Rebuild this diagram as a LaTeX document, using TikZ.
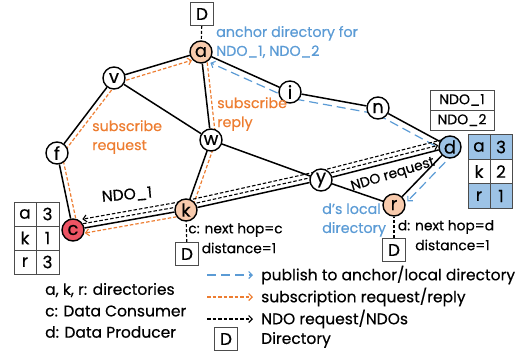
\documentclass[tikz,border=0pt]{standalone}
\usepackage{fontspec}
\setmainfont{Poppins}[FakeBold=0.4]
\usetikzlibrary{arrows.meta,calc,backgrounds}

\definecolor{pubblue}{HTML}{5B9BD5}
\definecolor{suborange}{HTML}{ED7D31}
\definecolor{dirfill}{HTML}{F8CBAD}
\definecolor{prodfill}{HTML}{9DC3E6}
\definecolor{consfill}{HTML}{EC5464}
\definecolor{cellblue}{HTML}{9DC3E6}

\begin{document}
\begin{tikzpicture}[x=1pt,y=-1pt,
  router/.style={circle,draw=black,line width=1.4pt,fill=white,minimum size=22pt,
    inner sep=0pt,font=\fontsize{18}{18}\selectfont},
  link/.style={line width=1.5pt},
  barb/.style={-{Straight Barb[length=3.5pt,width=7pt,line width=1.1pt]}},
  pub/.style={draw=pubblue,line width=1.2pt,dash pattern=on 9pt off 5pt,barb},
  sub/.style={draw=suborange,line width=1.2pt,dash pattern=on 3.5pt off 2pt,barb},
  ndo/.style={draw=black,line width=1.1pt,dash pattern=on 3.5pt off 2pt,barb},
  dirbox/.style={draw=black!70,line width=0.8pt,fill=white,minimum width=23pt,
    minimum height=23pt,inner sep=0pt,font=\fontsize{17}{17}\selectfont},
  dirlink/.style={line width=1.2pt,dash pattern=on 3pt off 2pt},
  lbl/.style={inner sep=0pt,font=\fontsize{14.3}{19}\selectfont},
  legend/.style={inner sep=0pt,font=\fontsize{15.5}{19}\selectfont},
  hoptext/.style={inner sep=0pt,font=\fontsize{13.8}{16}\selectfont},
  cell/.style={draw=black!70,line width=0.8pt,minimum width=22pt,minimum height=24pt,
    inner sep=0pt,font=\fontsize{17}{17}\selectfont},
  ndocell/.style={draw=black!70,line width=0.8pt,minimum width=64pt,minimum height=20pt,
    inner sep=0pt,font=\fontsize{14}{14}\selectfont}
]
\useasboundingbox (0,0) rectangle (526,354);

% routers
\node[router,fill=dirfill] (a) at (201,52) {a};
\node[router] (v) at (114,78) {v};
\node[router] (f) at (57,153) {f};
\node[router] (w) at (211,140) {w};
\node[router] (i) at (290,92) {i};
\node[router] (n) at (378,108) {n};
\node[router,fill=prodfill] (d) at (450,147) {d};
\node[router] (y) at (321,180) {y};
\node[router,fill=dirfill] (k) at (186,210) {k};
\node[router,fill=consfill] (c) at (73,230) {c};
\node[router,fill=dirfill] (r) at (394,205) {r};

% directory boxes
\node[dirbox] (Da) at (202,14) {D};
\node[dirbox] (Dk) at (187,254) {D};
\node[dirbox] (Dr) at (394,250) {D};

\begin{pgfonlayer}{background}
  % physical links
  \foreach \p/\q in {a/v,a/w,a/i,i/n,n/d,v/f,v/w,f/c,w/k,w/y,k/c,k/y,y/d,y/r,r/d}
    \draw[link] (\p) -- (\q);
  % directory attachments
  \draw[dirlink] (Da) -- (a);
  \draw[dirlink] (Dk) -- (k);
  \draw[dirlink] (Dr) -- (r);
  % publish to anchor and local directory
  \draw[pub,shorten >=13pt] ($(d)+(-2.7,5.4)$) -- ($(n)+(-2,5.8)$) -- ($(i)+(-1.8,5.8)$) -- ($(a)+(-2.5,5.5)$);
  \draw[pub,shorten >=12pt] ($(d)+(5,5)$) -- ($(r)+(5,5)$);
  % subscription request and reply
  \draw[sub,shorten >=11pt] ($(c)+(5,-1)$) -- ($(f)+(5,1.5)$) -- ($(v)+(3,5)$) -- ($(a)+(1.5,5)$);
  \draw[sub,shorten >=11pt] ($(a)+(5,-0.5)$) -- ($(w)+(5,0.5)$) -- ($(k)+(4,4.4)$) -- ($(c)+(1,5)$);
  % NDO request and returned NDO
  \draw[ndo,shorten >=11pt] ($(c)+(-0.8,-4.4)$) -- ($(k)+(-0.9,-4.4)$) -- ($(y)+(-1.1,-4.4)$) -- ($(d)+(-1.1,-4.4)$);
  \draw[ndo,shorten >=11pt] ($(d)+(-2.2,-8.7)$) -- ($(y)+(-2.1,-8.8)$) -- ($(k)+(-1.8,-8.9)$) -- ($(c)+(-1.5,-8.9)$);
\end{pgfonlayer}

% annotations
\node[lbl,anchor=west,align=left,text=pubblue] (anc) at (216,42) {anchor directory for\\NDO\_1, NDO\_2};
\node[lbl,anchor=west,align=left,text=suborange] (sreq) at (92,137) {subscribe\\request};
\node[lbl,anchor=west,align=left,text=suborange] (srep) at (217,114) {subscribe\\reply};
\node[legend,rotate=5] (ndo1) at (127,195) {NDO\_1};
\node[hoptext,rotate=17] (ndoreq) at (393,175) {NDO request};
\node[hoptext] (khop1) at (235.5,230) {c: next hop=c};
\node[hoptext] (khop2) at (239,248) {distance=1};
\node[lbl,anchor=west,align=left,text=pubblue] (dloc) at (322,220) {d’s local\\directory};
\node[hoptext] (rhop1) at (446,227) {d: next hop=d};
\node[hoptext] (rhop2) at (452.5,245) {distance=1};

% content table at d
\node[ndocell] (t1) at (462,100) {NDO\_1};
\node[ndocell] (t2) at (462,120) {NDO\_2};

% distance table at d
\node[cell,fill=cellblue,minimum height=24.5pt] (da1) at (479,147) {a};
\node[cell,fill=cellblue,minimum height=24.5pt] (da2) at (501,147) {3};
\node[cell,minimum height=24.5pt] (dk1) at (479,171.5) {k};
\node[cell,minimum height=24.5pt] (dk2) at (501,171.5) {2};
\node[cell,fill=cellblue,minimum height=24.5pt] (dr1) at (479,196) {r};
\node[cell,fill=cellblue,minimum height=24.5pt] (dr2) at (501,196) {1};

% distance table at c
\node[cell] (ca1) at (25,214) {a};
\node[cell,minimum width=23pt] (ca2) at (47.5,214) {3};
\node[cell] (ck1) at (25,238) {k};
\node[cell,minimum width=23pt] (ck2) at (47.5,238) {1};
\node[cell] (cr1) at (25,262) {r};
\node[cell,minimum width=23pt] (cr2) at (47.5,262) {3};

% legend, left
\node[legend,anchor=west] (lg1) at (45,290) {a, k, r: directories};
\node[legend,anchor=west] (lg2) at (45,311) {c: Data Consumer};
\node[legend,anchor=west] (lg3) at (45,332) {d: Data Producer};

% legend, right
\coordinate (p1) at (207,275); \coordinate (p2) at (253,275);
\coordinate (s1) at (207,297); \coordinate (s2) at (253,297);
\coordinate (n1) at (207,319); \coordinate (n2) at (253,319);
\draw[pub] (p1) -- (p2);
\draw[sub] (s1) -- (s2);
\draw[ndo] (n1) -- (n2);
\node[dirbox] (Dl) at (226,339) {D};
\node[legend,anchor=west] (lr1) at (261,275) {publish to anchor/local directory};
\node[legend,anchor=west] (lr2) at (261,297) {subscription request/reply};
\node[legend,anchor=west] (lr3) at (261,319) {NDO request/NDOs};
\node[legend,anchor=west] (lr4) at (261,340) {Directory};
\end{tikzpicture}
\end{document}
